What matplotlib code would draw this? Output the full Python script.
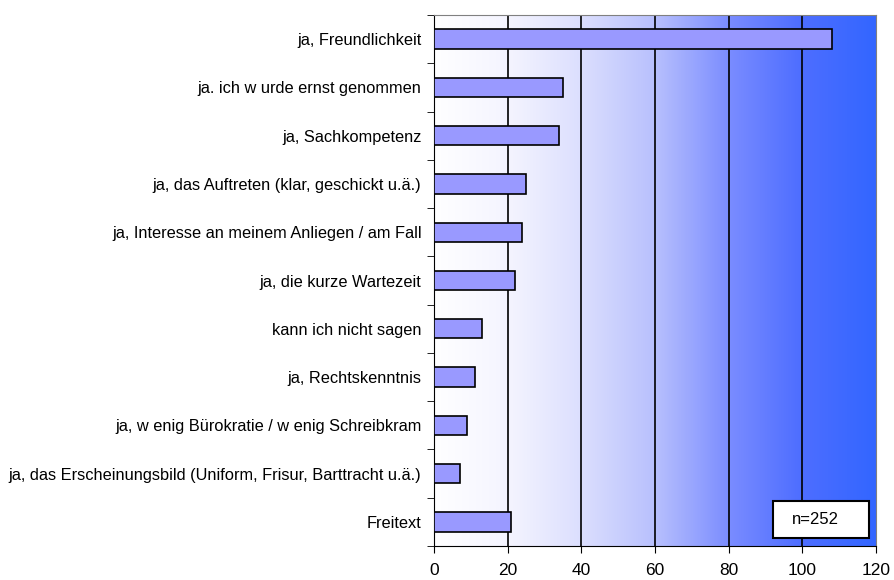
import matplotlib.pyplot as plt
import numpy as np
from matplotlib.colors import LinearSegmentedColormap
from matplotlib.patches import Rectangle

plt.rcParams['font.family'] = ['Liberation Sans', 'DejaVu Sans']

categories = [
    'ja, Freundlichkeit',
    'ja. ich w urde ernst genommen',
    'ja, Sachkompetenz',
    'ja, das Auftreten (klar, geschickt u.ä.)',
    'ja, Interesse an meinem Anliegen / am Fall',
    'ja, die kurze Wartezeit',
    'kann ich nicht sagen',
    'ja, Rechtskenntnis',
    'ja, w enig Bürokratie / w enig Schreibkram',
    'ja, das Erscheinungsbild (Uniform, Frisur, Barttracht u.ä.)',
    'Freitext',
]
values = [108, 35, 34, 25, 24, 22, 13, 11, 9, 7, 21]
xticks = [0, 20, 40, 60, 80, 100, 120]
note = 'n=252'

fig = plt.figure(figsize=(8.94, 5.8), dpi=100)
ax = fig.add_axes([434 / 894, 1 - 546 / 580, (876 - 434) / 894, (546 - 15) / 580])

# Hintergrund mit Farbverlauf weiß -> blau
cmap = LinearSegmentedColormap.from_list(
    'bg', [(0, '#ffffff'), (0.17, '#f4f4ff'), (0.33, '#dcdffe'), (0.5, '#b8c0fd'),
           (0.67, '#7a8cff'), (0.83, '#4e6eff'), (1, '#3366ff')])
grad = np.linspace(0, 1, 256).reshape(1, -1)
ax.imshow(grad, cmap=cmap, aspect='auto', extent=[0, 120, -0.5, len(categories) - 0.5],
          zorder=0)

y = np.arange(len(categories))
ax.barh(y, values, height=0.4, color='#9999ff', edgecolor='black', linewidth=1.2, zorder=3)

for xv in xticks[1:-1]:
    ax.axvline(xv, color='black', linewidth=1.2, zorder=2)

ax.set_xlim(0, 120)
ax.set_ylim(len(categories) - 0.5, -0.5)
ax.set_xticks(xticks)
ax.set_xticklabels([str(v) for v in xticks], fontsize=12.5)
ax.set_yticks(np.arange(len(categories) + 1) - 0.5, minor=True)
ax.set_yticks(y)
ax.set_yticklabels(categories, fontsize=11.8)
ax.tick_params(axis='y', which='major', length=0, pad=9)
ax.tick_params(axis='y', which='minor', length=5, direction='out')
ax.tick_params(axis='x', length=5, direction='out', pad=7)

for side in ['top', 'right']:
    ax.spines[side].set_color('#808080')
ax.spines['left'].set_color('black')
ax.spines['bottom'].set_color('black')

# Kasten mit Stichprobengröße
ax.add_patch(Rectangle((92, 9.57), 26.2, 0.77, facecolor='white', edgecolor='black',
                       linewidth=1.5, zorder=5))
ax.text(103.6, 9.95, note, fontsize=12, ha='center', va='center', zorder=6)

fig.savefig('out.png', dpi=100)
